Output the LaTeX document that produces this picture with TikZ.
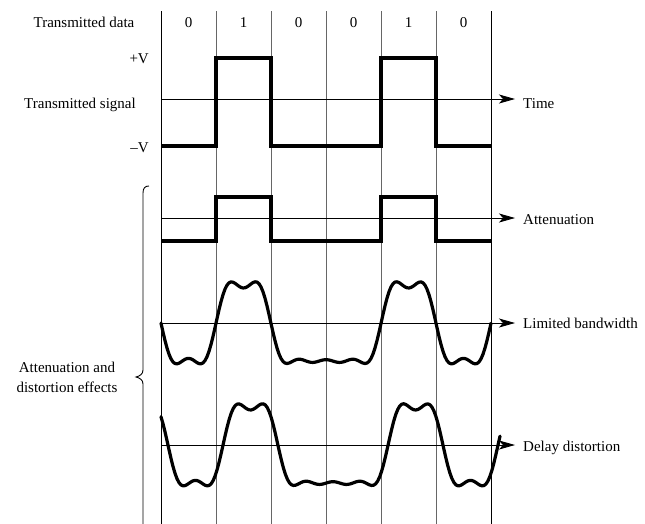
\documentclass[tikz,border=0pt]{standalone}
\usepackage{fontspec}
\setmainfont{Liberation Serif}
\usetikzlibrary{arrows.meta}
\begin{document}
\begin{tikzpicture}[x=1pt,y=-1pt,
  lbl/.style={inner sep=0pt,font=\fontsize{15}{20}\selectfont},
  grid/.style={line width=0.9pt,black!60},
  edge/.style={line width=0.9pt,black},
  axisline/.style={line width=0.8pt,-{Stealth[length=16pt,width=9pt,inset=4pt]}},
  sig/.style={line width=3.2pt,line join=miter,line cap=butt},
  wave/.style={line width=3.2pt,line join=round,line cap=round},
  brace/.style={line width=0.9pt},
  declare function={
    mm(\k)=0.5+0.5*sin(180*\k/15)/(pi*\k/15);
    gg(\k,\t)=mm(\k)*2/(pi*\k)*sin(180*\k/7)*(cos(360*\k/385*(\t-243.5))+cos(360*\k/385*(\t-408.5))+cos(360*\k/385*(\t-518.5)));
    pp(\t)=3/7+gg(1,\t)+gg(2,\t)+gg(3,\t)+gg(4,\t)+gg(5,\t)+gg(6,\t)+gg(7,\t)+gg(8,\t)+gg(9,\t)+gg(10,\t)+gg(11,\t)+gg(12,\t)+gg(13,\t)+gg(14,\t);
  }]
\useasboundingbox (0,0) rectangle (645,523);
% grid
\draw[edge] (161,11) -- (161,530);
\draw[edge] (491,11) -- (491,530);
\foreach \xx in {216,271,326,381,436} \draw[grid] (\xx,11) -- (\xx,530);
% labels
\node[lbl,anchor=base] (td) at (84,27) {Transmitted data};
\foreach \b/\xx [count=\i] in {0/188.5,1/243.5,0/298.5,0/353.5,1/408.5,0/463.5}
  \node[lbl,anchor=base] (bit\i) at (\xx,27) {\b};
\node[lbl,anchor=base east] (pv) at (149,63) {+V};
\node[lbl,anchor=base east] (mv) at (149,152) {–V};
\node[lbl,anchor=base] (ts) at (80,108) {Transmitted signal};
\node[lbl,anchor=base west] (time) at (523,108) {Time};
\node[lbl,anchor=base west] (att) at (523,224) {Attenuation};
\node[lbl,anchor=base west] (lb) at (523,328) {Limited bandwidth};
\node[lbl,anchor=base west] (dd) at (523,451) {Delay distortion};
\node[lbl,anchor=base] (ade1) at (67,372) {Attenuation and};
\node[lbl,anchor=base] (ade2) at (67,392) {distortion effects};
% axes
\coordinate (a1s) at (161,99);  \coordinate (a1e) at (515,99);
\coordinate (a2s) at (161,218); \coordinate (a2e) at (515,218);
\coordinate (a3s) at (161,323); \coordinate (a3e) at (515,323);
\coordinate (a4s) at (161,445); \coordinate (a4e) at (515,445);
\draw[axisline] (a1s) -- (a1e);
\draw[axisline] (a2s) -- (a2e);
\draw[axisline] (a3s) -- (a3e);
\draw[axisline] (a4s) -- (a4e);
% transmitted signal
\draw[sig] (161,146) -| (216,58) -| (271,146) -| (381,58) -| (436,146) -- (491,146);
% attenuation
\draw[sig] (161,241) -| (216,197) -| (271,241) -| (381,197) -| (436,241) -- (491,241);
% limited bandwidth
\draw[wave] plot[domain=161:491,samples=166] (\x,{323-38*(2*pp(\x)-1)});
% delay distortion
\draw[wave] plot[domain=161:500,samples=170] (\x,{445-38*(2*pp(\x-7)-1)});
% brace
\draw[brace] (149,186) .. controls (145,186) and (143,188) .. (143,193) -- (143,370)
  .. controls (143,374) and (140,376) .. (136,377)
  .. controls (140,378) and (143,380) .. (143,384) -- (143,530);
\end{tikzpicture}
\end{document}
